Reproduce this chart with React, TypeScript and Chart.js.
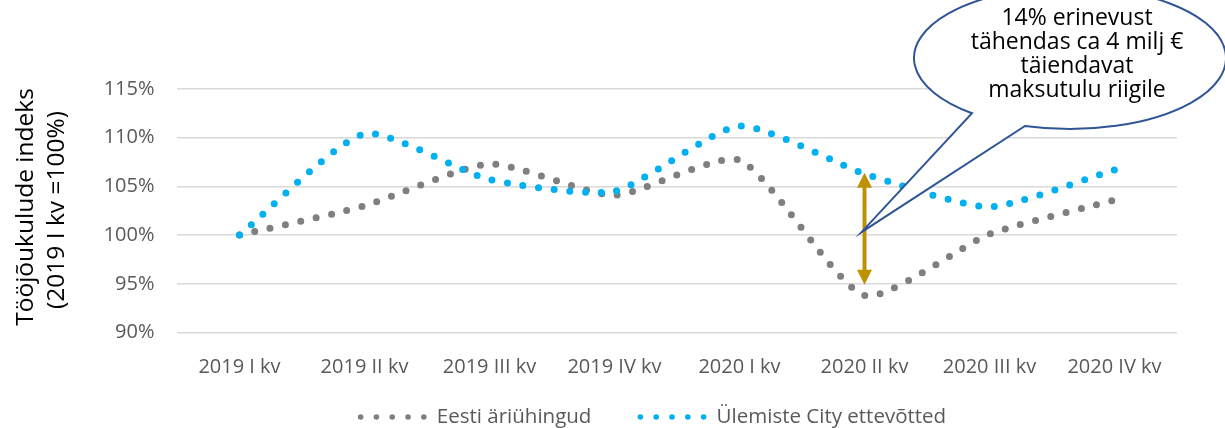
import React, { useEffect, useRef } from 'react';
import { Chart, registerables } from 'chart.js';

Chart.register(...registerables);

// ---- data ----
const categories = ['2019 I kv', '2019 II kv', '2019 III kv', '2019 IV kv', '2020 I kv', '2020 II kv', '2020 III kv', '2020 IV kv'];
const eestiValues = [100, 103.0, 107.3, 104.1, 107.7, 93.8, 100.1, 103.6];
const ulemisteValues = [100, 110.4, 105.7, 104.5, 111.2, 106.3, 102.9, 106.7];
const seriesLabels = ['Eesti äriühingud', 'Ülemiste City ettevõtted'];
const yTickMin = 90;
const yTickMax = 115;
const yTickStep = 5;
const yTitleLines = ['Tööjõukulude indeks', '(2019 I kv =100%)'];
const calloutLines = ['14% erinevust', 'tähendas ca 4 milj €', 'täiendavat', 'maksutulu riigile'];
const gapCategoryIndex = 5;
const gapTopValue = 106.4;
const gapBottomValue = 94.9;
const calloutTipValue = 100.3;

// ---- styles ----
const FONT = '"Open Sans", sans-serif';
const GRAY = '#7F7F7F';
const BLUE = '#00B0F0';
const TEXT_GRAY = '#595959';
const ARROW = '#BF9000';
const BUBBLE = '#2F5597';

const decorPlugin = {
  id: 'decor',
  afterDatasetsDraw(chart: any) {
    const { ctx } = chart;
    const xs = chart.scales.x;
    const ys = chart.scales.y;
    // double-headed arrow
    const ax = xs.getPixelForValue(gapCategoryIndex);
    const yTop = ys.getPixelForValue(gapTopValue);
    const yBot = ys.getPixelForValue(gapBottomValue);
    const head = 15;
    const hw = 7.5;
    ctx.save();
    ctx.strokeStyle = ARROW;
    ctx.fillStyle = ARROW;
    ctx.lineWidth = 4;
    ctx.beginPath();
    ctx.moveTo(ax, yTop + head - 1);
    ctx.lineTo(ax, yBot - head + 1);
    ctx.stroke();
    ctx.beginPath();
    ctx.moveTo(ax, yTop);
    ctx.lineTo(ax - hw, yTop + head);
    ctx.lineTo(ax + hw, yTop + head);
    ctx.closePath();
    ctx.fill();
    ctx.beginPath();
    ctx.moveTo(ax, yBot);
    ctx.lineTo(ax - hw, yBot - head);
    ctx.lineTo(ax + hw, yBot - head);
    ctx.closePath();
    ctx.fill();

    // callout bubble
    const tipX = ax - 3;
    const tipY = ys.getPixelForValue(calloutTipValue);
    const cx = 1070, cy = 58, rx = 156, ry = 71;
    const tA = Math.acos((972 - cx) / rx);
    const tB = Math.acos((1025 - cx) / rx);
    ctx.beginPath();
    ctx.ellipse(cx, cy, rx, ry, 0, tA, tB + Math.PI * 2);
    ctx.lineTo(tipX, tipY);
    ctx.closePath();
    ctx.fillStyle = '#FFFFFF';
    ctx.fill();
    ctx.strokeStyle = BUBBLE;
    ctx.lineWidth = 2;
    ctx.lineJoin = 'miter';
    ctx.stroke();

    ctx.fillStyle = '#000000';
    ctx.font = `23px ${FONT}`;
    ctx.textAlign = 'center';
    ctx.textBaseline = 'alphabetic';
    const baselines = [25, 49.3, 73, 96.7];
    calloutLines.forEach((line, i) => ctx.fillText(line, 1077, baselines[i]));
    ctx.restore();
  },
  afterDraw(chart: any) {
    const { ctx } = chart;
    ctx.save();
    // y-axis title (two lines, rotated)
    ctx.fillStyle = '#000000';
    ctx.font = `24.5px ${FONT}`;
    ctx.textAlign = 'center';
    ctx.textBaseline = 'alphabetic';
    const titlePos = [
      { x: 33, y: 207 },
      { x: 63.5, y: 210 },
    ];
    yTitleLines.forEach((line, i) => {
      ctx.save();
      ctx.translate(titlePos[i].x, titlePos[i].y);
      ctx.rotate(-Math.PI / 2);
      ctx.fillText(line, 0, 0);
      ctx.restore();
    });

    // legend
    ctx.font = `20.5px ${FONT}`;
    ctx.textAlign = 'left';
    const dotGap = 15.8, dotR = 2.8, nDots = 5, textGap = 13, itemGap = 49;
    const items = chart.data.datasets.map((ds: any) => ({
      label: ds.label,
      color: ds.borderColor,
      w: (nDots - 1) * dotGap + textGap + ctx.measureText(ds.label).width,
    }));
    const total = items.reduce((s: number, it: any) => s + it.w, 0) + itemGap * (items.length - 1) + dotR;
    let x = 652 - total / 2 + dotR;
    const dotY = 417;
    const baseY = 423;
    items.forEach((it: any) => {
      ctx.fillStyle = it.color;
      for (let k = 0; k < nDots; k++) {
        ctx.beginPath();
        ctx.arc(x + k * dotGap, dotY, dotR, 0, Math.PI * 2);
        ctx.fill();
      }
      ctx.fillStyle = TEXT_GRAY;
      ctx.fillText(it.label, x + (nDots - 1) * dotGap + textGap, baseY);
      x += it.w + itemGap;
    });
    ctx.restore();
  },
};

export default function App() {
  const canvasRef = useRef<HTMLCanvasElement | null>(null);

  useEffect(() => {
    if (!canvasRef.current) return;
    const lineStyle = {
      borderWidth: 7,
      borderDash: [0, 15.7],
      borderCapStyle: 'round' as const,
      borderJoinStyle: 'round' as const,
      tension: 0.2,
      pointRadius: 0,
      pointHoverRadius: 0,
      fill: false,
    };
    const chart = new Chart(canvasRef.current, {
      type: 'line',
      data: {
        labels: categories,
        datasets: [
          { label: seriesLabels[0], data: eestiValues, borderColor: GRAY, backgroundColor: GRAY, order: 2, ...lineStyle },
          { label: seriesLabels[1], data: ulemisteValues, borderColor: BLUE, backgroundColor: BLUE, order: 1, ...lineStyle },
        ],
      },
      options: {
        animation: false,
        responsive: false,
        maintainAspectRatio: false,
        layout: { padding: { left: 0, right: 48, top: 89, bottom: 0 } },
        plugins: {
          legend: { display: false },
          tooltip: { enabled: false },
        },
        scales: {
          x: {
            type: 'category',
            offset: true,
            grid: { display: false, drawTicks: false },
            border: { display: false },
            ticks: {
              color: TEXT_GRAY,
              font: { family: FONT, size: 20 },
              padding: 23,
              maxRotation: 0,
              autoSkip: false,
            },
            afterFit(scale: any) {
              scale.height = 428 - 332.5;
            },
          },
          y: {
            min: yTickMin,
            max: yTickMax,
            ticks: {
              stepSize: yTickStep,
              color: TEXT_GRAY,
              font: { family: FONT, size: 20 },
              padding: 22.5,
              callback: (v: any) => `${v}%`,
            },
            grid: { color: '#D9D9D9', lineWidth: 1.5, drawTicks: false },
            border: { display: false },
            afterFit(scale: any) {
              scale.width = 177;
            },
          },
        },
      },
      plugins: [decorPlugin],
    });
    return () => chart.destroy();
  }, []);

  return (
    <div style={{ position: 'fixed', left: 0, top: 0, width: 1225, height: 428, background: '#FFFFFF' }}>
      <canvas ref={canvasRef} width={1225} height={428} style={{ display: 'block', width: 1225, height: 428 }} />
    </div>
  );
}
